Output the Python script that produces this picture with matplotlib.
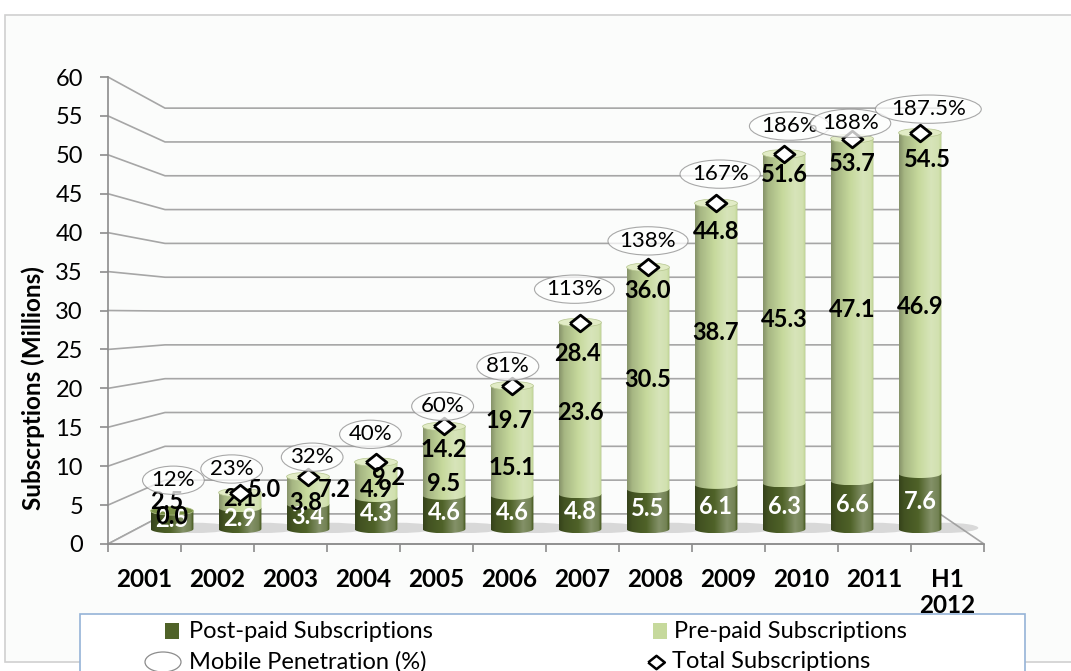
import numpy as np
import matplotlib.pyplot as plt
from matplotlib.patches import Polygon, Ellipse, Rectangle
from matplotlib.colors import to_rgb

plt.rcParams['font.family'] = ['Lato', 'DejaVu Sans']

years = ['2001', '2002', '2003', '2004', '2005', '2006', '2007', '2008',
         '2009', '2010', '2011', 'H1\n2012']
postpaid = [2.5, 2.9, 3.4, 4.3, 4.6, 4.6, 4.8, 5.5, 6.1, 6.3, 6.6, 7.6]
prepaid = [0.0, 2.1, 3.8, 4.9, 9.5, 15.1, 23.6, 30.5, 38.7, 45.3, 47.1, 46.9]
total = [2.5, 5.0, 7.2, 9.2, 14.2, 19.7, 28.4, 36.0, 44.8, 51.6, 53.7, 54.5]
penetration = ['12%', '23%', '32%', '40%', '60%', '81%', '113%', '138%',
               '167%', '186%', '188%', '187.5%']

DARK = '#4f6228'
LIGHT = '#c6d99c'
GRID = '#a6a6a6'

# (x offset, x scale, y offset, y scale) mapping a point on a deeper plane
# back onto the front plane of the axes
BACK = (0.781, 0.8847, 3.86, 0.869)
MID = (0.411, 0.9315, 1.93, 0.934)
BAR_W = 0.63
CAP_RY = 0.55

# label nudges in points (dx, dy)
PRE_OFFSETS = [(0, -4), (0, 1), (-2, -9), (0, -7), (0, -16), (0, -19),
               (0, -3), (0, -1), (0, 8), (0, -1), (0, 0), (0, -2)]
TOTAL_OFFSETS = [(-4, 7), (18, 2), (19, -9), (9, -11), (0, -17), (-2, -25),
                 (-2, -22), (0, -17), (0, -20), (0, -15), (0, -18), (5, -19)]
PEN_OFFSETS = [(1, 22), (-6, 17), (3, 14), (-4, 20), (-1, 14), (-3, 14),
               (-4, 24), (0, 19), (3, 21), (4, 20), (-1, 11), (6, 17)]


def proj(x, v, p):
    ox, sx, oy, sy = p
    return ox + sx * np.asarray(x, dtype=float), oy + sy * np.asarray(v, dtype=float)


def shade(base, n=80):
    # horizontal shading across a cylinder: dark left edge, highlight right of centre
    t = np.linspace(0, 1, n)
    f = np.interp(t, [0, 0.12, 0.45, 0.75, 0.93, 1.0],
                  [-0.32, -0.16, 0.0, 0.3, 0.2, -0.12])
    c = np.array(to_rgb(base))
    out = np.empty((n, 3))
    for i, k in enumerate(f):
        out[i] = c + (1 - c) * k if k > 0 else c * (1 + k)
    return out[None, :, :]


def cylinder(ax, xc, v0, v1, base, z):
    x0, y0 = proj(xc - BAR_W / 2, v0, MID)
    x1, y1 = proj(xc + BAR_W / 2, v1, MID)
    cx, rx = (x0 + x1) / 2, (x1 - x0) / 2
    t = np.linspace(np.pi, 2 * np.pi, 40)
    arc = np.column_stack([cx + rx * np.cos(t), y0 + CAP_RY * np.sin(t)])
    verts = np.vstack([[x0, y1], arc, [x1, y1]])
    poly = Polygon(verts, closed=True, fill=False, lw=0, zorder=z)
    ax.add_patch(poly)
    img = ax.imshow(shade(base), extent=(x0, x1, y0 - CAP_RY, y1), aspect='auto',
                    origin='lower', interpolation='bilinear', zorder=z)
    img.set_clip_path(poly)
    return cx, rx, y0, y1


fig = plt.figure(figsize=(10.71, 6.71), dpi=100)
fig.patch.set_facecolor('white')

# chart area panel and legend frame
fig.add_artist(Rectangle((5 / 1071, (671 - 662) / 671), 1.0, (662 - 15) / 671,
                         transform=fig.transFigure, fc='#fbfcfb', ec='#d0d0d0', lw=1.2,
                         zorder=-2))
fig.add_artist(Rectangle((80 / 1071, -0.05), 945 / 1071, 0.05 + (671 - 614) / 671,
                         transform=fig.transFigure, fc='white', ec='#95b3d7', lw=1.2,
                         zorder=1))

ax = fig.add_axes([108 / 1071, (671 - 544) / 671, 876 / 1071, 467 / 671])
ax.set_facecolor('none')
n = len(years)
ticks = np.arange(0, 61, 5)

# back wall and side wall gridlines
for v in ticks:
    bx, by = proj([0, n], [v, v], BACK)
    ax.plot([0, bx[0], bx[1]], [v, by[0], by[1]], color=GRID, lw=1.2, zorder=1,
            clip_on=False)

# floor
fx, fy = proj([n, 0], [0, 0], BACK)
ax.add_patch(Polygon([[0, 0], [n, 0], [fx[0], fy[0]], [fx[1], fy[1]]], closed=True,
                     fc='#fafafa', ec=GRID, lw=1.2, zorder=1.5, clip_on=False))

xc = np.arange(n) + 0.5
for i in range(n):
    z = 3 + i * 0.01
    # soft shadow on the floor
    sx, sy = proj(xc[i] + 0.35, 0.15, MID)
    ax.add_patch(Ellipse((sx, sy), BAR_W * 1.5, CAP_RY * 2.4, fc='#9a9a9a',
                         ec='none', alpha=0.35, zorder=2))
    cx, rx, y0, y1 = cylinder(ax, xc[i], 0, postpaid[i], DARK, z)
    top_col = '#7a9147'
    if prepaid[i] > 0:
        cx, rx, _, y1 = cylinder(ax, xc[i], postpaid[i], postpaid[i] + prepaid[i], LIGHT, z + 0.001)
        top_col = '#e2ecc6'
    ax.add_patch(Ellipse((cx, y1), 2 * rx, 2 * CAP_RY, fc=top_col, ec='#b5c58e',
                         lw=0.5, zorder=z + 0.002))

# value labels
for i in range(n):
    px, py = proj(xc[i], postpaid[i] / 2, MID)
    ax.text(px, py, f'{postpaid[i]:.1f}', color='white', fontsize=17,
            fontweight='bold', ha='center', va='center', zorder=6)
    px, py = proj(xc[i], postpaid[i] + prepaid[i] / 2, MID)
    ax.annotate(f'{prepaid[i]:.1f}', (px, py), xytext=PRE_OFFSETS[i],
                textcoords='offset points', color='black', fontsize=17,
                fontweight='bold', ha='center', va='center', zorder=6)

# total subscriptions (diamonds), their labels, and penetration ellipses
dx, dy = proj(xc, total, MID)
diamond = [(-1.25, 0), (0, 1), (1.25, 0), (0, -1), (-1.25, 0)]
ax.plot(dx[1:], dy[1:], ls='none', marker=diamond, ms=15, mfc='white', mec='black',
        mew=2, zorder=8)
for i in range(n):
    ax.annotate(f'{total[i]:.1f}', (dx[i], dy[i]), xytext=TOTAL_OFFSETS[i],
                textcoords='offset points', ha='center', va='center', fontsize=17,
                fontweight='bold', zorder=9)
    ax.annotate(penetration[i], (dx[i], dy[i]), xytext=PEN_OFFSETS[i],
                textcoords='offset points', ha='center', va='center', fontsize=16,
                zorder=9,
                bbox=dict(boxstyle='ellipse,pad=0.0', fc='white', ec='#8c8c8c',
                          lw=0.8, alpha=0.75))

ax.set_xlim(0, n)
ax.set_ylim(0, 60)
for s in ['top', 'right']:
    ax.spines[s].set_visible(False)
for s in ['left', 'bottom']:
    ax.spines[s].set_color('#8c8c8c')
    ax.spines[s].set_linewidth(1.2)
    ax.spines[s].set_zorder(2)

ax.set_yticks(ticks)
ax.tick_params(axis='y', direction='out', length=6, width=1.2, color='#8c8c8c',
               labelsize=17, pad=12)
ax.set_xticks(np.arange(n + 1))
ax.set_xticklabels([])
ax.set_xticks(xc, minor=True)
ax.set_xticklabels(years, minor=True, fontsize=17.5, fontweight='bold')
ax.tick_params(axis='x', which='major', direction='out', length=6, width=1.2,
               color='#8c8c8c')
ax.tick_params(axis='x', which='minor', length=0, pad=17)

fig.text(33 / 1071, 1 - 388 / 671, 'Subscrptions (Millions)', rotation=90,
         fontsize=17.5, fontweight='bold', ha='center', va='center')

# legend
lx = [172 / 1071, 660 / 1071]
ly = [1 - 631 / 671, 1 - 662 / 671]
fig.add_artist(Rectangle((lx[0] - 7 / 1071, ly[0] - 8 / 671), 14 / 1071, 16 / 671,
                         transform=fig.transFigure, fc=DARK, ec='none', zorder=2))
fig.add_artist(Rectangle((lx[1] - 7 / 1071, ly[0] - 8 / 671), 14 / 1071, 16 / 671,
                         transform=fig.transFigure, fc=LIGHT, ec='none', zorder=2))
fig.add_artist(Ellipse((163 / 1071, ly[1]), 36 / 1071, 20 / 671,
                       transform=fig.transFigure, fc='white', ec='#8c8c8c', lw=0.9,
                       zorder=2))
fig.lines.append(plt.Line2D([656 / 1071], [ly[1]], transform=fig.transFigure,
                            marker=diamond, ms=12, mfc='white', mec='black', mew=1.8,
                            zorder=2))
leg_kw = dict(fontsize=17, va='center', ha='left')
fig.text(189 / 1071, ly[0], 'Post-paid Subscriptions', **leg_kw)
fig.text(674 / 1071, ly[0], 'Pre-paid Subscriptions', **leg_kw)
fig.text(189 / 1071, ly[1], 'Mobile Penetration (%)', **leg_kw)
fig.text(672 / 1071, ly[1], 'Total Subscriptions', **leg_kw)

fig.savefig('out.png', dpi=100)
